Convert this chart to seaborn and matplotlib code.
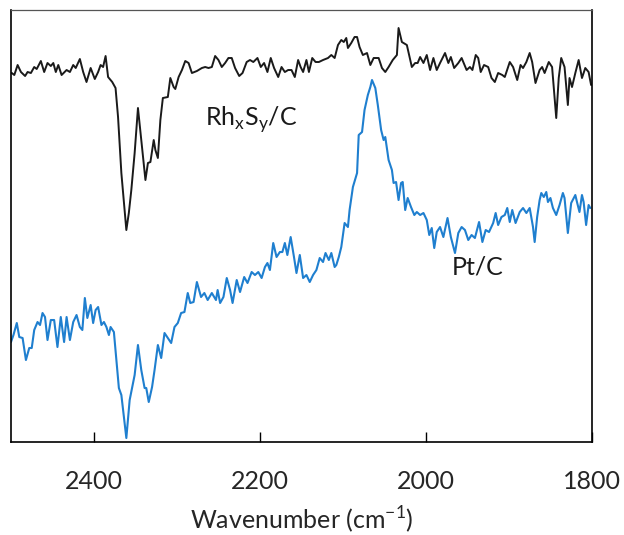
import numpy as np
import pandas as pd
import matplotlib
matplotlib.use("Agg")
import matplotlib.pyplot as plt
import seaborn as sns

# Rh_xS_y/C spectrum (black), wavenumber in cm-1, intensity in a.u.
rh_wn = [2499, 2496, 2492, 2488, 2483, 2480, 2476, 2472, 2469, 2464, 2460, 2456, 2452, 2449,
         2446, 2443, 2439, 2433, 2429, 2425, 2422, 2417, 2413, 2409, 2404, 2399, 2395, 2392,
         2389, 2386, 2383, 2378, 2374, 2371, 2367, 2361, 2358, 2355, 2351, 2347, 2343, 2338,
         2335, 2332, 2328, 2326, 2323, 2320, 2317, 2311, 2308, 2304, 2302, 2298, 2294, 2290,
         2286, 2282, 2276, 2270, 2266, 2262, 2258, 2254, 2250, 2246, 2242, 2238, 2234, 2230,
         2225, 2221, 2216, 2212, 2208, 2203, 2199, 2195, 2191, 2187, 2183, 2178, 2174, 2170,
         2166, 2162, 2158, 2154, 2151, 2148, 2144, 2141, 2137, 2133, 2129, 2124, 2118, 2114,
         2110, 2106, 2102, 2099, 2096, 2094, 2090, 2086, 2083, 2080, 2076, 2071, 2067, 2063,
         2057, 2053, 2049, 2045, 2040, 2035, 2033, 2029, 2023, 2017, 2013, 2010, 2007, 2003,
         1999, 1995, 1991, 1987, 1983, 1977, 1973, 1970, 1966, 1961, 1957, 1951, 1947, 1944,
         1940, 1937, 1934, 1930, 1925, 1921, 1917, 1913, 1908, 1905, 1899, 1895, 1890, 1886,
         1883, 1879, 1875, 1872, 1868, 1863, 1860, 1857, 1852, 1848, 1843, 1840, 1837, 1833,
         1829, 1827, 1824, 1820, 1816, 1812, 1808, 1804, 1801]
rh_int = [0.369, 0.367, 0.377, 0.370, 0.366, 0.370, 0.369, 0.375, 0.373, 0.381, 0.370, 0.379,
          0.376, 0.379, 0.370, 0.377, 0.367, 0.372, 0.370, 0.377, 0.374, 0.383, 0.370, 0.360,
          0.374, 0.363, 0.370, 0.377, 0.375, 0.386, 0.365, 0.360, 0.354, 0.325, 0.269, 0.212,
          0.229, 0.252, 0.289, 0.334, 0.302, 0.262, 0.279, 0.280, 0.302, 0.292, 0.284, 0.322,
          0.344, 0.345, 0.364, 0.355, 0.353, 0.365, 0.372, 0.381, 0.379, 0.369, 0.371, 0.374,
          0.375, 0.374, 0.375, 0.386, 0.382, 0.375, 0.379, 0.384, 0.384, 0.374, 0.366, 0.369,
          0.380, 0.382, 0.380, 0.384, 0.375, 0.379, 0.370, 0.384, 0.374, 0.365, 0.375, 0.370,
          0.372, 0.372, 0.365, 0.382, 0.375, 0.370, 0.382, 0.370, 0.384, 0.380, 0.380, 0.382,
          0.384, 0.387, 0.384, 0.397, 0.402, 0.400, 0.404, 0.394, 0.399, 0.405, 0.405, 0.395,
          0.387, 0.389, 0.377, 0.384, 0.384, 0.374, 0.370, 0.375, 0.382, 0.387, 0.414, 0.400,
          0.397, 0.375, 0.379, 0.379, 0.385, 0.379, 0.387, 0.372, 0.384, 0.372, 0.379, 0.389,
          0.379, 0.385, 0.374, 0.379, 0.384, 0.372, 0.375, 0.372, 0.387, 0.384, 0.370, 0.377,
          0.375, 0.364, 0.360, 0.369, 0.367, 0.365, 0.380, 0.375, 0.362, 0.377, 0.374, 0.380,
          0.389, 0.380, 0.359, 0.372, 0.375, 0.369, 0.380, 0.375, 0.324, 0.364, 0.384, 0.375,
          0.337, 0.364, 0.355, 0.369, 0.382, 0.364, 0.374, 0.370, 0.357]

# Pt/C spectrum (blue)
pt_wn = [2500, 2497, 2493, 2490, 2486, 2482, 2478, 2475, 2472, 2468, 2465, 2462, 2459, 2456,
         2452, 2448, 2444, 2440, 2436, 2433, 2429, 2425, 2421, 2417, 2414, 2411, 2408, 2404,
         2401, 2398, 2395, 2391, 2388, 2385, 2382, 2380, 2376, 2373, 2370, 2367, 2361, 2357,
         2351, 2347, 2343, 2339, 2337, 2334, 2330, 2327, 2323, 2319, 2315, 2311, 2307, 2303,
         2299, 2295, 2291, 2287, 2284, 2280, 2276, 2271, 2267, 2263, 2258, 2253, 2251, 2248,
         2244, 2240, 2236, 2233, 2228, 2224, 2219, 2215, 2210, 2206, 2202, 2198, 2194, 2191,
         2188, 2184, 2180, 2176, 2173, 2170, 2167, 2163, 2159, 2156, 2152, 2148, 2144, 2140,
         2136, 2132, 2128, 2124, 2121, 2117, 2114, 2110, 2108, 2105, 2102, 2098, 2094, 2092,
         2088, 2083, 2081, 2077, 2074, 2070, 2067, 2065, 2061, 2058, 2054, 2051, 2049, 2045,
         2041, 2039, 2036, 2033, 2030, 2028, 2025, 2022, 2018, 2014, 2011, 2007, 2003, 1999,
         1996, 1993, 1990, 1987, 1983, 1979, 1974, 1970, 1965, 1961, 1957, 1953, 1949, 1945,
         1941, 1936, 1932, 1928, 1924, 1919, 1916, 1913, 1909, 1905, 1902, 1899, 1896, 1892,
         1887, 1883, 1879, 1875, 1871, 1869, 1866, 1863, 1861, 1858, 1855, 1853, 1850, 1847,
         1843, 1839, 1835, 1833, 1829, 1825, 1820, 1818, 1815, 1812, 1810, 1807, 1804, 1802]
pt_int = [0.100, 0.107, 0.119, 0.105, 0.104, 0.082, 0.094, 0.094, 0.112, 0.120, 0.117, 0.129,
          0.125, 0.102, 0.122, 0.122, 0.095, 0.125, 0.100, 0.125, 0.102, 0.120, 0.127, 0.115,
          0.112, 0.144, 0.124, 0.137, 0.119, 0.132, 0.135, 0.117, 0.120, 0.115, 0.107, 0.115,
          0.110, 0.082, 0.054, 0.047, 0.004, 0.042, 0.067, 0.097, 0.072, 0.054, 0.054, 0.040,
          0.055, 0.072, 0.097, 0.084, 0.109, 0.104, 0.099, 0.115, 0.119, 0.129, 0.130, 0.149,
          0.139, 0.140, 0.160, 0.145, 0.149, 0.142, 0.149, 0.142, 0.152, 0.139, 0.145, 0.164,
          0.152, 0.139, 0.162, 0.150, 0.165, 0.159, 0.170, 0.167, 0.170, 0.164, 0.175, 0.179,
          0.172, 0.199, 0.185, 0.190, 0.190, 0.199, 0.187, 0.205, 0.185, 0.169, 0.187, 0.164,
          0.167, 0.160, 0.167, 0.172, 0.184, 0.180, 0.189, 0.182, 0.189, 0.175, 0.177, 0.185,
          0.195, 0.219, 0.215, 0.232, 0.255, 0.269, 0.307, 0.310, 0.332, 0.347, 0.355, 0.362,
          0.354, 0.337, 0.312, 0.302, 0.305, 0.282, 0.272, 0.259, 0.260, 0.242, 0.259, 0.260,
          0.232, 0.244, 0.235, 0.227, 0.230, 0.227, 0.229, 0.222, 0.207, 0.214, 0.194, 0.210,
          0.215, 0.205, 0.224, 0.205, 0.189, 0.209, 0.215, 0.212, 0.202, 0.207, 0.204, 0.220,
          0.200, 0.212, 0.210, 0.219, 0.229, 0.217, 0.225, 0.227, 0.234, 0.220, 0.232, 0.219,
          0.230, 0.234, 0.229, 0.234, 0.215, 0.200, 0.225, 0.242, 0.249, 0.245, 0.250, 0.240,
          0.244, 0.234, 0.227, 0.237, 0.249, 0.244, 0.209, 0.239, 0.247, 0.240, 0.230, 0.247,
          0.240, 0.217, 0.237, 0.234]

x_ticks = [2400, 2200, 2000, 1800]

sns.set_style("white")
plt.rcParams["font.family"] = ["Lato", "DejaVu Sans"]
plt.rcParams["mathtext.fontset"] = "custom"
plt.rcParams["mathtext.rm"] = "Lato"

rh = pd.DataFrame({"wavenumber": rh_wn, "intensity": rh_int})
pt = pd.DataFrame({"wavenumber": pt_wn, "intensity": pt_int})

fig = plt.figure(figsize=(6.24, 5.35), dpi=100)
ax = fig.add_axes([0.0176, 0.1738, 0.931, 0.8075])

# round joins give the smooth look of the original trace
sns.lineplot(data=rh, x="wavenumber", y="intensity", color="#1a1a1a", lw=1.4,
             sort=False, estimator=None, solid_joinstyle="round", ax=ax)
sns.lineplot(data=pt, x="wavenumber", y="intensity", color="#1f7fcf", lw=1.5,
             sort=False, estimator=None, solid_joinstyle="round", ax=ax)

ax.set_xlim(2500, 1800)
ax.set_ylim(0, 0.432)
ax.set_xticks(x_ticks)
ax.set_xticklabels([str(t) for t in x_ticks])
ax.set_yticks([])
ax.set_ylabel("")
ax.set_xlabel(r"Wavenumber (cm$^\mathregular{-1}$)", fontsize=18, labelpad=8)
ax.tick_params(axis="x", direction="in", length=7, width=1, pad=20, labelsize=18,
               bottom=True, top=False, color="black")

for side in ["left", "right", "top", "bottom"]:
    ax.spines[side].set_visible(True)
    ax.spines[side].set_color("black")
    ax.spines[side].set_linewidth(1.2)
ax.spines["top"].set_color("#555555")
ax.spines["top"].set_linewidth(0.9)

ax.text(2266, 0.322, r"Rh$_\mathregular{x}$S$_\mathregular{y}$/C", fontsize=18,
        ha="left", va="center", color="#1a1a1a")
ax.text(1969, 0.175, "Pt/C", fontsize=18, ha="left", va="center", color="#1a1a1a")

fig.savefig("out.png", dpi=100)
plt.close(fig)
